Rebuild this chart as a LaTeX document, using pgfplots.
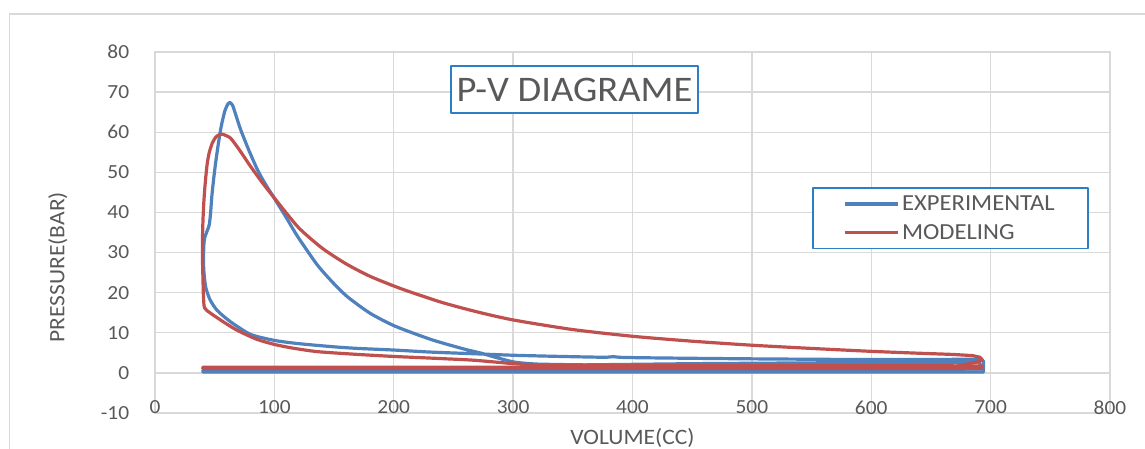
\documentclass[border=0pt]{standalone}
\usepackage{fontspec}
\setmainfont{Carlito}[FakeStretch=1.07]
\usepackage{pgfplots}
\pgfplotsset{compat=1.18}

\definecolor{expblue}{HTML}{4F81BD}
\definecolor{modred}{HTML}{C0504D}
\definecolor{boxblue}{HTML}{2E7DC6}
\definecolor{txtgray}{HTML}{595959}
\definecolor{gridgray}{HTML}{D9D9D9}

\pgfplotsset{
  exp/.style={expblue, line width=3.2pt},
  mod/.style={modred, line width=3.2pt},
}

\begin{document}
\begin{tikzpicture}
\useasboundingbox (-155pt,-35pt) rectangle (990pt,413pt);
% chart area border
\draw[gridgray, line width=1.2pt] (-145.5pt,-40pt) -- (-145.5pt,399pt) -- (1000pt,399pt);
\begin{axis}[
  at={(0pt,0pt)}, anchor=south west,
  scale only axis, width=955pt, height=361pt,
  xmin=0, xmax=800, ymin=-10, ymax=80,
  xtick={0,100,...,800}, ytick={-10,0,...,80},
  xticklabels={0,100,200,300,400,500,600,700,800},
  yticklabels={-10,0,10,20,30,40,50,60,70,80},
  grid=major, grid style={gridgray, line width=1.4pt},
  axis line style={draw=none},
  major tick length=0pt,
  tick label style={font=\fontsize{20}{23}\selectfont, text=txtgray},
  xticklabel style={anchor=center, inner sep=0pt, yshift=5.5pt},
  yticklabel style={anchor=east, inner sep=0pt, xshift=-25.7pt},
  xlabel={VOLUME(CC)},
  xlabel style={at={(axis description cs:0.5,-0.069)}, anchor=center,
    font=\fontsize{22}{26}\selectfont, text=txtgray},
  ylabel={PRESSURE(BAR)},
  ylabel style={at={(axis description cs:-0.1016,0.404)}, anchor=center,
    font=\fontsize{22}{26}\selectfont, text=txtgray},
  legend style={at={(axis description cs:0.688,0.626)}, anchor=north west,
    draw=boxblue, line width=1.8pt, fill=white,
    inner xsep=30pt, inner ysep=8pt, row sep=12pt,
    font=\fontsize{23}{27}\selectfont, text=txtgray,
    nodes={inner xsep=3pt, inner ysep=0pt}},
  legend cell align=left,
  legend image code/.code={\draw[#1] (0pt,0pt) -- (53pt,0pt);},
  line join=round, line cap=round,
]
% ---- experimental ----
% compression, combustion, expansion (smooth part)
\addplot[exp, smooth, tension=0.4] coordinates {
(688,3.4) (640,3.35) (584,3.35) (500,3.5) (430,3.7) (392,3.85) (384,4.05) (376,3.9)
(340,4.1) (300,4.4) (265,4.8) (230,5.2) (200,5.7) (170,6.1) (150,6.5) (120,7.3)
(100,8.1) (80,9.6) (63,12.8) (52,15.6) (46,18.3) (42.4,21.5) (40.8,26) (40.8,31)
(41.5,33.5) (43.8,35.5) (45.5,37) (46.6,40) (47.6,44) (49,48) (50.8,52.4) (53,57)
(55.5,61.5) (58.5,65.3) (61,67) (62.8,67.4) (65,66.7) (67.5,64.5) (71.8,60.6)
(78.5,55.6) (85.9,50.6) (92,47.3) (99.8,43.6) (110,38.7) (119.5,34.0) (136,26.9)
(150,22.2) (161.5,18.9) (180,14.9) (200.7,11.7) (231.5,8.3) (259.5,5.9) (273.5,4.9)
(285,3.9) (301,2.7) (320,2.2) (360,2.0)
};
\addlegendentry{EXPERIMENTAL}
% intake, exhaust and the turn at bottom dead centre
\addplot[exp, forget plot] coordinates {
(360,2.0) (450,2.3) (550,2.5) (650,2.6) (690,2.7) (694,1.0) (600,0.6) (40,0.6)
};
\addplot[exp, forget plot] coordinates {
(40,0.2) (694,0.2) (694,3.0) (688,3.4)
};
% ---- modeling ----
\addplot[mod, smooth, tension=0.4] coordinates {
(650,1.8) (560,1.8) (470,1.8) (400,1.8) (330,1.9) (305,2.2) (285,2.7) (265,3.2)
(230,3.7) (200,4.1) (170,4.6) (136,5.3) (115,6.2) (100,7.1) (85,8.4) (69,10.6)
(60,12.2) (52.3,13.7) (46,15) (41.5,16.2) (40.6,19) (40.2,23.2) (39.8,28) (39.7,31.5)
(39.9,35) (40.2,38.2) (40.8,42) (41.6,45.6) (42.6,49) (43.8,52.3) (45.5,55) (48,57.3)
(51,58.8) (54,59.4) (56.5,59.5) (60,59.1) (63.4,58.5) (70,55.9) (80,51.5) (90,47.4)
(100,43.6) (120,36.3) (140,31.1) (160,27.2) (180,24.1) (206,21.0) (240,17.6)
(270,15.2) (300,13.2) (350,10.8) (401,9.1) (450,7.9) (500,6.9) (550,6.1) (598,5.4)
(640,4.9) (668,4.6) (685,4.3)
};
\addlegendentry{MODELING}
\addplot[mod, forget plot] coordinates {
(685,4.3) (691,3.9) (693,3.3) (690,2.8) (684,2.4) (670,1.6) (600,1.4) (40,1.4)
};
\addplot[mod, forget plot] coordinates {
(40,1.1) (692,1.1) (693,1.7) (650,1.8)
};
\node[draw=boxblue, line width=1.8pt, fill=white, minimum width=247pt,
  minimum height=47pt, inner sep=0pt, text=txtgray,
  font=\fontsize{36}{40}\selectfont]
  at (axis description cs:0.4393,0.8961) {P-V DIAGRAME};
\end{axis}
\end{tikzpicture}
\end{document}
